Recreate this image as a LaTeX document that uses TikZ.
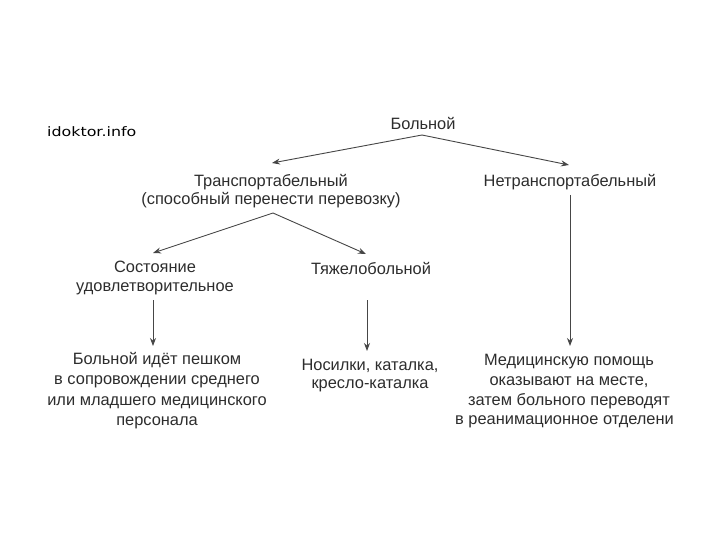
\documentclass[tikz,border=0pt]{standalone}
\usepackage{fontspec}
\setmainfont{Liberation Sans}
\newfontfamily\wmfont[FakeStretch=1.22]{DejaVu Sans}
\usetikzlibrary{arrows.meta}
\definecolor{txt}{RGB}{45,45,45}
\definecolor{ln}{RGB}{70,70,70}
\tikzset{
  lbl/.style={align=center, text=txt, inner sep=0pt, font=\fontsize{16.4}{20}\selectfont},
  conn/.style={draw=ln, line width=0.9pt, -{Stealth[length=8pt,width=6pt]}},
}
\begin{document}
\begin{tikzpicture}[x=1pt,y=-1pt]
\useasboundingbox[fill=white] (0,0) rectangle (720,540);
\node[anchor=base west, inner sep=0pt, font=\wmfont\fontsize{13}{15}\selectfont] (wm) at (47,137) {idoktor.info};
\node[lbl] (root) at (423,123) {Больной};
\node[lbl, font=\fontsize{16.4}{18}\selectfont] (tr) at (271,191) {Транспортабельный\\(способный перенести перевозку)};
\node[lbl] (ntr) at (570,182) {Нетранспортабельный};
\node[lbl, font=\fontsize{16.4}{19}\selectfont] (sost) at (155,277.5) {Состояние\\удовлетворительное};
\node[lbl] (tyazh) at (371,268) {Тяжелобольной};
\node[lbl, font=\fontsize{16.4}{20.3}\selectfont] (peshk) at (157,390.5) {Больной идёт пешком\\в сопровождении среднего\\или младшего медицинского\\персонала};
\node[lbl, font=\fontsize{16.4}{17.5}\selectfont] (nos) at (370,375.5) {Носилки, каталка,\\кресло-каталка};
\node[lbl, font=\fontsize{16.4}{19.7}\selectfont] (med) at (569,391.5) {Медицинскую помощь\\оказывают на месте,\\затем больного переводят\\\hspace*{-9pt}в реанимационное отделени};
\coordinate (r0) at (422,135);
\coordinate (t0) at (273,213);
\draw[conn] (r0) -- (272,163);
\draw[conn] (r0) -- (569,165);
\draw[conn] (t0) -- (153,253);
\draw[conn] (t0) -- (366,254);
\draw[conn] (153,300) -- (153,346);
\draw[conn] (367,300) -- (367,351);
\draw[conn] (570,195) -- (570,346);
\end{tikzpicture}
\end{document}
